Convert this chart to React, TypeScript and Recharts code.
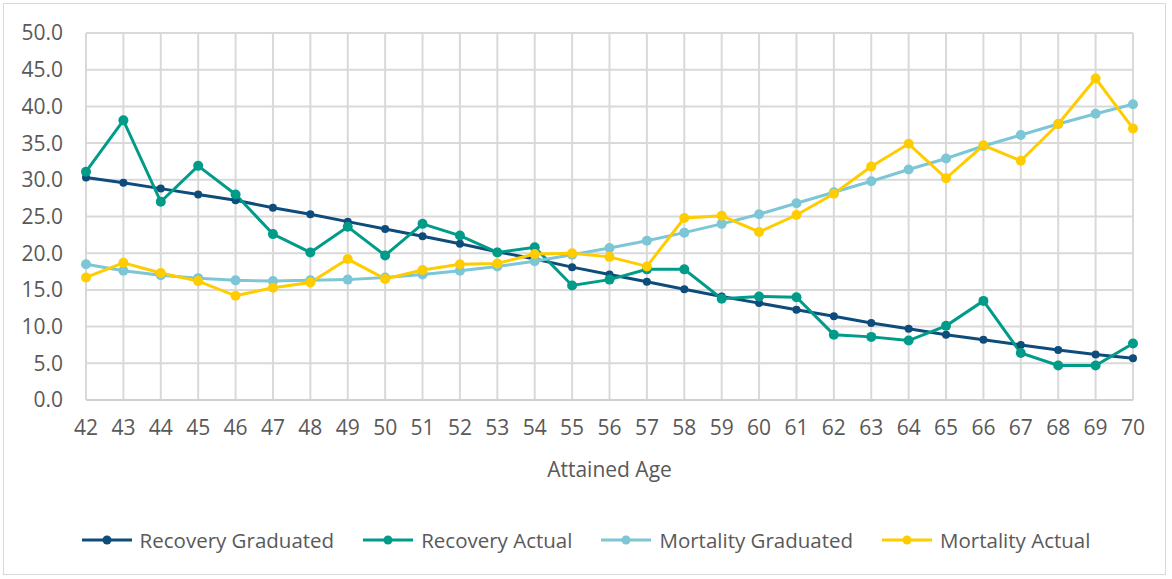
import React from 'react';
import { LineChart, Line, XAxis, YAxis, CartesianGrid, Legend } from 'recharts';

const ages = [42, 43, 44, 45, 46, 47, 48, 49, 50, 51, 52, 53, 54, 55, 56, 57, 58, 59, 60, 61, 62, 63, 64, 65, 66, 67, 68, 69, 70];
const recoveryGraduated = [30.3, 29.6, 28.8, 28.0, 27.2, 26.2, 25.3, 24.3, 23.3, 22.3, 21.3, 20.2, 19.2, 18.1, 17.1, 16.1, 15.1, 14.1, 13.2, 12.3, 11.4, 10.5, 9.7, 8.9, 8.2, 7.5, 6.8, 6.2, 5.7];
const recoveryActual = [31.1, 38.1, 27.0, 31.9, 28.0, 22.6, 20.1, 23.6, 19.7, 24.0, 22.4, 20.1, 20.8, 15.6, 16.4, 17.8, 17.8, 13.8, 14.1, 14.0, 8.9, 8.6, 8.1, 10.1, 13.5, 6.4, 4.7, 4.7, 7.7];
const mortalityGraduated = [18.5, 17.6, 17.0, 16.6, 16.3, 16.2, 16.3, 16.4, 16.7, 17.1, 17.6, 18.2, 18.9, 19.8, 20.7, 21.7, 22.8, 24.0, 25.3, 26.8, 28.3, 29.8, 31.4, 32.9, 34.6, 36.1, 37.6, 39.0, 40.3];
const mortalityActual = [16.7, 18.7, 17.3, 16.2, 14.2, 15.3, 16.0, 19.2, 16.5, 17.7, 18.5, 18.6, 19.9, 20.0, 19.5, 18.2, 24.8, 25.1, 22.9, 25.2, 28.1, 31.8, 34.9, 30.2, 34.7, 32.6, 37.6, 43.8, 37.0];
const yTicks = [0, 5, 10, 15, 20, 25, 30, 35, 40, 45, 50];

const seriesNames = ['Recovery Graduated', 'Recovery Actual', 'Mortality Graduated', 'Mortality Actual'];
const seriesColors = ['#0E4C7B', '#009C89', '#7CC6D6', '#FFCC00'];

const data = ages.map((a, i) => ({
  age: a,
  rg: recoveryGraduated[i],
  ra: recoveryActual[i],
  mg: mortalityGraduated[i],
  ma: mortalityActual[i],
}));

const FONT = '"Open Sans", "Noto Sans", sans-serif';
const TEXT = '#595959';

const renderLegend = (props: any) => {
  const payload = [...(props.payload || [])].sort(
    (a: any, b: any) => seriesNames.indexOf(a.value) - seriesNames.indexOf(b.value)
  );
  return (
    <div style={{ display: 'flex', justifyContent: 'center', alignItems: 'center', fontFamily: FONT, fontSize: 20.5, color: TEXT }}>
      {payload.map((p: any, i: number) => (
        <div key={i} style={{ display: 'flex', alignItems: 'center', marginRight: i < payload.length - 1 ? 29 : 0 }}>
          <svg width={50} height={14} style={{ marginRight: 8 }}>
            <line x1={0} y1={7} x2={50} y2={7} stroke={p.color} strokeWidth={3} />
            <circle cx={25} cy={7} r={4.5} fill={p.color} />
          </svg>
          <span>{p.value}</span>
        </div>
      ))}
    </div>
  );
};

export default function App() {
  return (
    <div style={{ position: 'fixed', left: 0, top: 0, width: 1172, height: 579, background: '#fff' }}>
      <div style={{ position: 'absolute', left: 3, top: 3, width: 1163, height: 572, border: '1px solid #d9d9d9', boxSizing: 'border-box' }} />
      <LineChart width={1172} height={579} data={data} margin={{ top: 33, right: 39, left: 0, bottom: 99 }}>
        <CartesianGrid stroke="#d9d9d9" strokeWidth={2} />
        <XAxis
          dataKey="age"
          scale="point"
          padding={{ left: 0, right: 0 }}
          height={80}
          tickLine={false}
          tickMargin={14}
          axisLine={{ stroke: '#d0d0d0', strokeWidth: 2 }}
          tick={{ fill: TEXT, fontSize: 21, fontFamily: FONT }}
          interval={0}
          label={{ value: 'Attained Age', position: 'insideBottom', offset: 3, fill: TEXT, fontSize: 21, fontFamily: FONT }}
        />
        <YAxis
          domain={[0, 50]}
          ticks={yTicks}
          width={86}
          axisLine={false}
          tickLine={false}
          tickMargin={17}
          tickFormatter={(v: number) => v.toFixed(1)}
          tick={{ fill: TEXT, fontSize: 21, fontFamily: FONT }}
        />
        <Legend verticalAlign="middle" align="center" layout="horizontal" wrapperStyle={{ top: 526, left: 0, width: 1172 }} content={renderLegend} />
        <Line type="linear" dataKey="rg" name={seriesNames[0]} stroke={seriesColors[0]} strokeWidth={3} dot={{ r: 4, fill: seriesColors[0], stroke: seriesColors[0], strokeWidth: 0 }} isAnimationActive={false} />
        <Line type="linear" dataKey="ra" name={seriesNames[1]} stroke={seriesColors[1]} strokeWidth={3} dot={{ r: 5, fill: seriesColors[1], stroke: seriesColors[1], strokeWidth: 0 }} isAnimationActive={false} />
        <Line type="linear" dataKey="mg" name={seriesNames[2]} stroke={seriesColors[2]} strokeWidth={3} dot={{ r: 5, fill: seriesColors[2], stroke: seriesColors[2], strokeWidth: 0 }} isAnimationActive={false} />
        <Line type="linear" dataKey="ma" name={seriesNames[3]} stroke={seriesColors[3]} strokeWidth={3} dot={{ r: 5, fill: seriesColors[3], stroke: seriesColors[3], strokeWidth: 0 }} isAnimationActive={false} />
      </LineChart>
    </div>
  );
}
